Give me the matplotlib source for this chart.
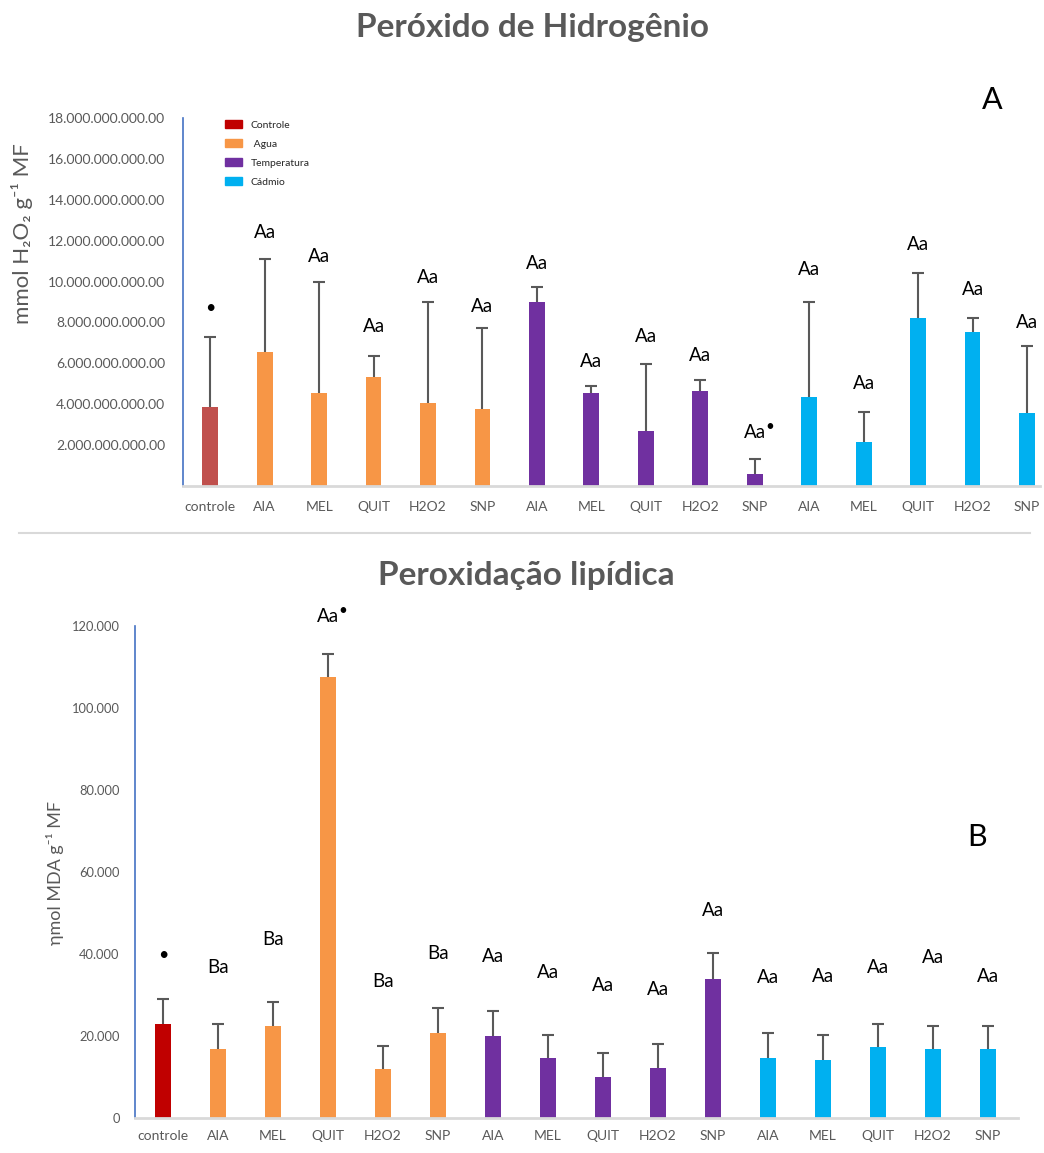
import numpy as np
import matplotlib
matplotlib.use('Agg')
import matplotlib.pyplot as plt
from matplotlib.patches import Patch
from matplotlib.lines import Line2D

plt.rcParams['font.family'] = ['Lato', 'DejaVu Sans']

# treatment labels, one per bar
treatments = ['controle', 'AIA', 'MEL', 'QUIT', 'H2O2', 'SNP',
              'AIA', 'MEL', 'QUIT', 'H2O2', 'SNP',
              'AIA', 'MEL', 'QUIT', 'H2O2', 'SNP']
groups = ['Controle', ' Agua', 'Temperatura', 'Cádmio']
group_sizes = [1, 5, 5, 5]

# hydrogen peroxide (x 1e9 mmol H2O2 g-1 MF): mean and standard deviation
h2o2_mean = [3.87, 6.57, 4.56, 5.34, 4.07, 3.77, 9.02, 4.56, 2.70, 4.66, 0.59, 4.36, 2.16, 8.24, 7.55, 3.58]
h2o2_sd = [3.43, 4.53, 5.44, 1.03, 4.93, 3.97, 0.73, 0.34, 3.28, 0.54, 0.73, 4.66, 1.47, 2.20, 0.69, 3.28]
h2o2_letters = ['', 'Aa', 'Aa', 'Aa', 'Aa', 'Aa', 'Aa', 'Aa', 'Aa', 'Aa', 'Aa', 'Aa', 'Aa', 'Aa', 'Aa', 'Aa']
h2o2_star = [1, 0, 0, 0, 0, 0, 0, 0, 0, 0, 1, 0, 0, 0, 0, 0]
h2o2_label_y = [8.7, 12.4, 11.2, 7.8, 10.2, 8.8, 10.9, 6.1, 7.3, 6.4, 2.6, 10.6, 5.0, 11.8, 9.6, 8.0]

# lipid peroxidation (nmol MDA g-1 MF)
mda_mean = [23000, 16800, 22500, 107500, 11900, 20800, 20000, 14600, 10000, 12300, 34000, 14600, 14100, 17200, 16800, 16800]
mda_sd = [5900, 6000, 5800, 5700, 5700, 5900, 6100, 5600, 5800, 5700, 6200, 6100, 6100, 5700, 5700, 5700]
mda_letters = ['', 'Ba', 'Ba', 'Aa', 'Ba', 'Ba', 'Aa', 'Aa', 'Aa', 'Aa', 'Aa', 'Aa', 'Aa', 'Aa', 'Aa', 'Aa']
mda_star = [1, 0, 0, 1, 0, 0, 0, 0, 0, 0, 0, 0, 0, 0, 0, 0]
mda_label_y = [39800, 36800, 43600, 122400, 33400, 40000, 39500, 35400, 32200, 31400, 50700, 34200, 34400, 36800, 39100, 34400]

ORANGE = '#F79646'
PURPLE = '#7030A0'
CYAN = '#00B0F0'
GRAY = '#595959'


def bar_colors(ctrl_color):
    cols = []
    for c, n in zip([ctrl_color, ORANGE, PURPLE, CYAN], group_sizes):
        cols += [c] * n
    return cols


def draw_panel(ax, mean, sd, letters, stars, label_y, colors, width):
    x = np.arange(len(treatments))
    mean = np.asarray(mean, dtype=float)
    top = mean + np.asarray(sd, dtype=float)
    ax.bar(x, mean, width=width, color=colors, zorder=2)
    # upper error bar only: stem plus cap
    ax.vlines(x, mean, top, color=GRAY, lw=1.5, zorder=3)
    ax.plot(x, top, ls='none', marker='_', ms=9, mew=1.5, color=GRAY, zorder=3)
    for i in x:
        if letters[i]:
            ax.text(i, label_y[i], letters[i], ha='center', va='center', fontsize=13.5, color='black')
            if stars[i]:
                ax.annotate('•', (i, label_y[i]), xytext=(11, 4), textcoords='offset points',
                            ha='center', va='center', fontsize=11, color='black',
                            annotation_clip=False)
        elif stars[i]:
            ax.text(i, label_y[i], '•', ha='center', va='center', fontsize=13, color='black')

    ax.set_xticks(x)
    ax.set_xticklabels(treatments)
    for s in ['top', 'right']:
        ax.spines[s].set_visible(False)
    ax.spines['left'].set_color('#4472C4')
    ax.spines['left'].set_linewidth(1.2)
    ax.spines['bottom'].set_color('#D9D9D9')
    ax.spines['bottom'].set_linewidth(2)
    ax.tick_params(length=0, labelcolor=GRAY)
    ax.tick_params(axis='x', labelsize=10)


fig = plt.figure(figsize=(10.44, 11.53), dpi=100)

# panel A - hydrogen peroxide
ax1 = fig.add_axes([0.1753, 0.5785, 0.8209, 0.3192])
draw_panel(ax1, np.array(h2o2_mean) * 1e9, np.array(h2o2_sd) * 1e9, h2o2_letters, h2o2_star,
           np.array(h2o2_label_y) * 1e9, bar_colors('#C0504D'), 0.29)
ax1.set_xlim(-0.5, 15.24)
ax1.set_ylim(0, 18e9)
ticks = np.arange(2, 19, 2) * 1e9
ax1.set_yticks(ticks)
ax1.set_yticklabels([f'{v:,.2f}'.replace(',', '.') for v in ticks])
ax1.tick_params(axis='y', pad=13, labelsize=10)
ax1.tick_params(axis='x', pad=11)

handles = [Patch(color=c) for c in ['#C00000', ORANGE, PURPLE, CYAN]]
leg = ax1.legend(handles, groups, loc='upper left',
                 bbox_to_anchor=(0.0385, 1.019), frameon=False, fontsize=7.5,
                 handlelength=1.63, handleheight=0.8, labelspacing=0.9, handletextpad=0.8)
for t in leg.get_texts():
    t.set_color('#262626')

# panel B - lipid peroxidation
ax2 = fig.add_axes([0.1293, 0.0304, 0.8458, 0.4267])
draw_panel(ax2, mda_mean, mda_sd, mda_letters, mda_star, mda_label_y,
           bar_colors('#C00000'), 0.30)
ax2.set_xlim(-0.51, 15.55)
ax2.set_ylim(0, 120000)
ticks2 = np.arange(0, 120001, 20000)
ax2.set_yticks(ticks2)
ax2.set_yticklabels([f'{v:,.0f}'.replace(',', '.') for v in ticks2])
ax2.tick_params(axis='y', pad=11, labelsize=9.3)
ax2.tick_params(axis='x', pad=9)

# titles, axis names and panel letters
fig.text(532 / 1044, 1 - 28 / 1153, 'Peróxido de Hidrogênio', ha='center', va='center',
         fontsize=24, fontweight='bold', color=GRAY)
fig.text(526 / 1044, 1 - 576 / 1153, 'Peroxidação lipídica', ha='center', va='center',
         fontsize=24, fontweight='bold', color=GRAY)
fig.text(22 / 1044, 1 - 234 / 1153, 'mmol H₂O₂ g⁻¹ MF', rotation=90, ha='center', va='center',
         fontsize=16, color=GRAY)
fig.text(55 / 1044, 1 - 873 / 1153, 'ηmol MDA g⁻¹ MF', rotation=90, ha='center', va='center',
         fontsize=13, color=GRAY)
fig.text(992 / 1044, 1 - 100 / 1153, 'A', ha='center', va='center', fontsize=22, color='black')
fig.text(977 / 1044, 1 - 837 / 1153, 'B', ha='center', va='center', fontsize=22, color='black')

# divider between the two panels
fig.add_artist(Line2D([19 / 1044, 1030 / 1044], [1 - 533 / 1153, 1 - 533 / 1153],
                      transform=fig.transFigure, color='#D9D9D9', lw=1.5))

fig.savefig('out.png', dpi=100)
